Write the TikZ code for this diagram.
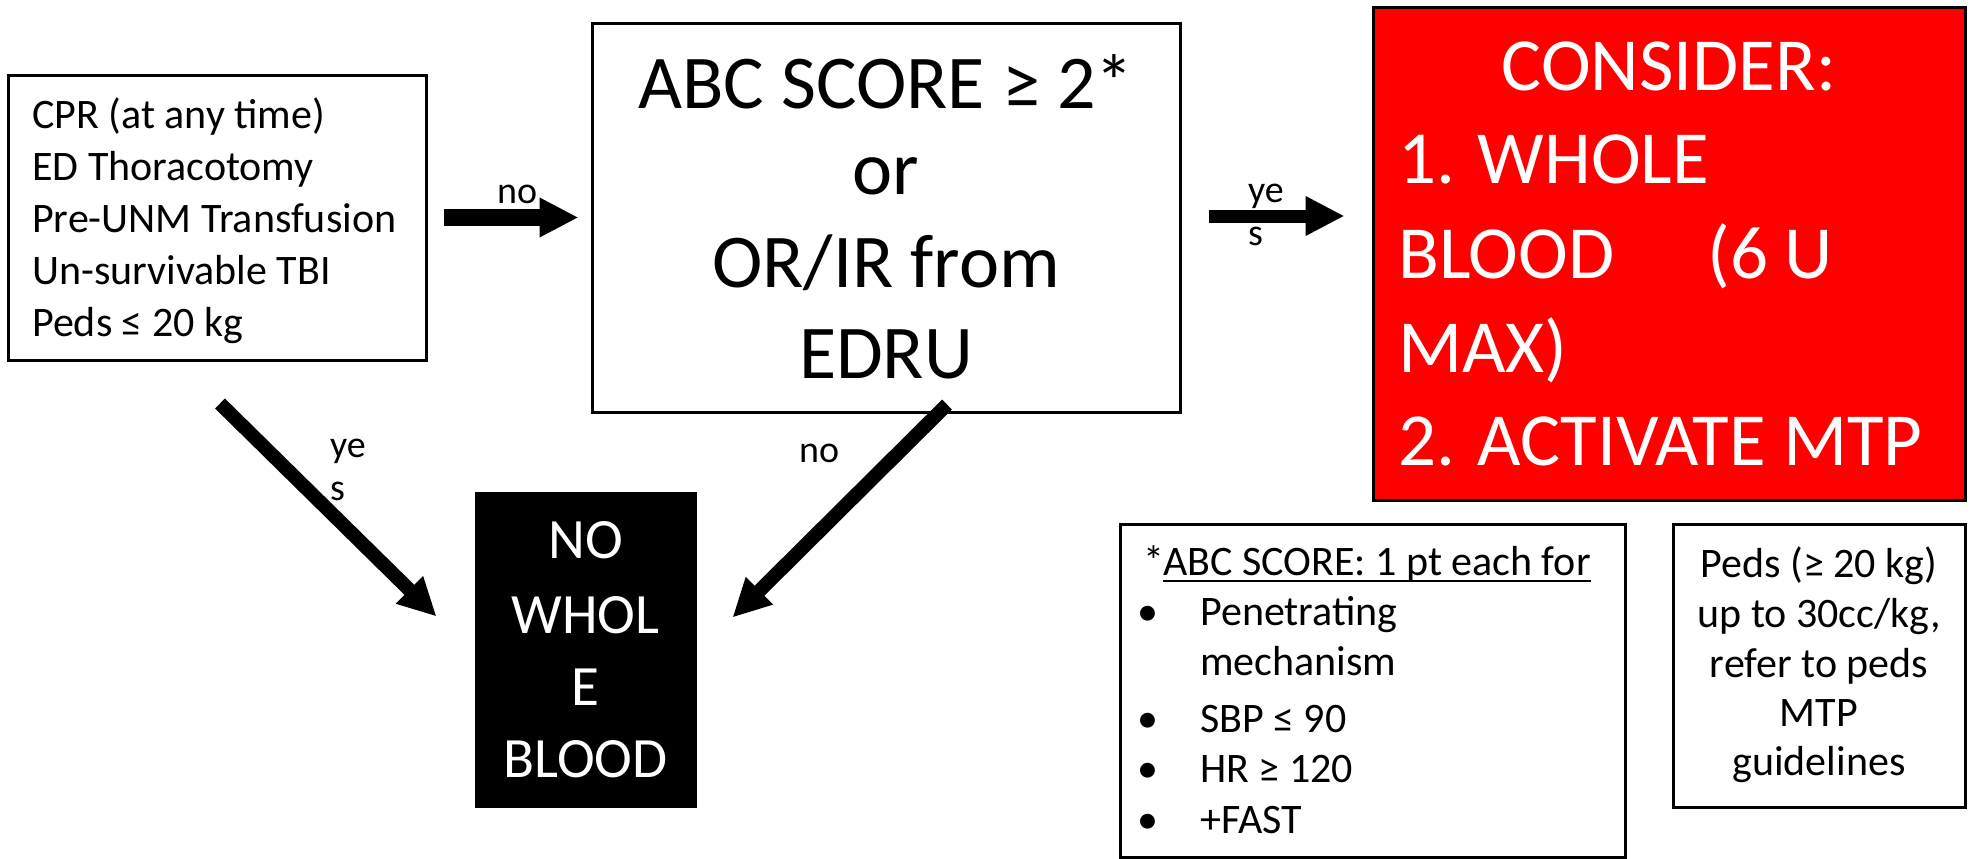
\documentclass[tikz,border=0pt]{standalone}
\usepackage{fontspec}
\setmainfont{Carlito}
\usetikzlibrary{arrows.meta}
\definecolor{pptred}{HTML}{FF0000}
\begin{document}
\begin{tikzpicture}[x=1pt,y=-1pt,
  box/.style={draw=black,line width=3pt,inner sep=0pt},
  txt/.style={inner sep=0pt,anchor=base west,font=\fontsize{42}{50}\selectfont},
  ctxt/.style={txt,anchor=base},
  bigtxt/.style={inner sep=0pt,anchor=base,font=\fontsize{76}{92}\selectfont},
  redtxt/.style={inner sep=0pt,anchor=base west,text=white,font=\fontsize{75}{92}\selectfont},
  blktxt/.style={inner sep=0pt,anchor=base,text=white,font=\fontsize{57}{70}\selectfont},
  lab/.style={inner sep=0pt,anchor=base west,font=\fontsize{38}{43}\selectfont},
  arr/.style={line width=#1,-{Triangle[length=39pt,width=37pt]}},
  darr/.style={line width=#1,-{Triangle[length=38pt,width=36pt]}},
]
\useasboundingbox[fill=white] (0,0) rectangle (1975,859);

% boxes
\node[box,minimum width=418pt,minimum height=285pt] (left) at (217,217.5) {};
\node[box,minimum width=588pt,minimum height=388pt] (mid) at (886,218) {};
\node[box,fill=pptred,minimum width=592pt,minimum height=492pt] (red) at (1669,254) {};
\node[fill=black,draw=black,line width=1pt,inner sep=0pt,minimum width=221pt,minimum height=315pt] (blk) at (585.5,649.5) {};
\node[box,minimum width=505pt,minimum height=333pt] (abc) at (1372.5,690.5) {};
\node[box,minimum width=292pt,minimum height=283pt] (peds) at (1819,665.5) {};

% left box text
\node[txt] (L1) at (32,128) {CPR (at any time)};
\node[txt] (L2) at (32,180) {ED Thoracotomy};
\node[txt] (L3) at (32,232) {Pre-UNM Transfusion};
\node[txt] (L4) at (32,284) {Un-survivable TBI};
\node[txt] (L5) at (32,336) {Peds ≤ 20 kg};

% middle box text
\node[bigtxt] (M1) at (886,108) {ABC SCORE ≥ 2*};
\node[bigtxt] (M2) at (886,194) {or};
\node[bigtxt] (M3) at (886,287) {OR/IR from};
\node[bigtxt] (M4) at (886,378) {EDRU};

% red box text
\node[redtxt,anchor=base] (R1) at (1669,90) {CONSIDER:};
\node[redtxt] (R2) at (1398,183) {1. WHOLE};
\node[redtxt] (R3) at (1398,278) {BLOOD\hspace{93pt}(6 U};
\node[redtxt] (R4) at (1398,372) {MAX)};
\node[redtxt] (R5) at (1398,465) {2. ACTIVATE MTP};

% black box text
\node[blktxt] (B1) at (585.5,558) {NO};
\node[blktxt] (B2) at (585.5,633) {WHOL};
\node[blktxt] (B3) at (585.5,705) {E};
\node[blktxt] (B4) at (585.5,777) {BLOOD};

% ABC score box text
\node[txt] (Astar) at (1143,575) {*};
\node[txt] (A0) at (1163,575) {ABC SCORE: 1 pt each for};
\draw[line width=2.5pt] ([yshift=-6pt]A0.base west) -- ([yshift=-6pt]A0.base east);
\node[ctxt] (b1) at (1148,625) {•};
\node[txt] (A1) at (1200,625) {Penetrating};
\node[txt] (A2) at (1200,675) {mechanism};
\node[ctxt] (b2) at (1148,732) {•};
\node[txt] (A3) at (1200,732) {SBP ≤ 90};
\node[ctxt] (b3) at (1148,782) {•};
\node[txt] (A4) at (1200,782) {HR ≥ 120};
\node[ctxt] (b4) at (1148,833) {•};
\node[txt] (A5) at (1200,833) {+FAST};

% peds box text
\node[ctxt] (P1) at (1819,577) {Peds (≥ 20 kg)};
\node[ctxt] (P2) at (1819,627) {up to 30cc/kg,};
\node[ctxt] (P3) at (1819,677) {refer to peds};
\node[ctxt] (P4) at (1819,726) {MTP};
\node[ctxt] (P5) at (1819,775) {guidelines};

% arrows
\draw[arr=17pt] ([xshift=16pt]left.east) -- ([xshift=-12pt]left.east -| mid.west);
\draw[arr=13pt] ([xshift=27pt,yshift=2pt]mid.east) -- ([xshift=-27pt,yshift=2pt]mid.east -| red.west);
\draw[darr=14pt] ([shift={(3pt,-42pt)}]left.south) -- ([shift={(-38pt,-125pt)}]blk.north west);
\draw[darr=14pt] ([shift={(61pt,9pt)}]mid.south) -- ([shift={(36pt,-126pt)}]blk.north east);

% arrow labels
\node[lab] (no1) at (497,203) {no};
\node[lab] (ye1) at (1248,202) {ye};
\node[lab] (s1) at (1248,245) {s};
\node[lab] (ye2) at (330,457) {ye};
\node[lab] (s2) at (330,500) {s};
\node[lab] (no2) at (799,462) {no};
\end{tikzpicture}
\end{document}
